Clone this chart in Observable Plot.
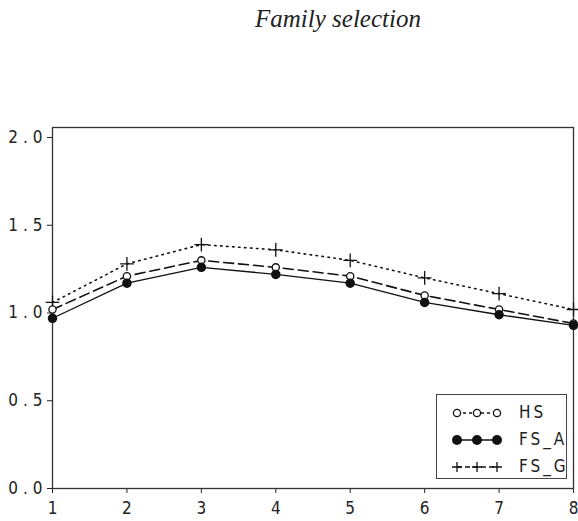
<!DOCTYPE html>
<html>
<head>
<meta charset="utf-8">
<script src="https://cdn.jsdelivr.net/npm/d3@7"></script>
<script src="https://cdn.jsdelivr.net/npm/@observablehq/plot@0.6"></script>
<style>
  html, body { margin: 0; padding: 0; background: #fff; }
  #wrap { position: relative; width: 578px; height: 521px; overflow: hidden; }
  #title { position: absolute; left: 0; top: 4px; width: 578px; padding-left: 98px; box-sizing: border-box;
    text-align: center; font-family: "Liberation Serif", "DejaVu Serif", serif; font-style: italic; font-size: 25px; line-height: 30px; color: #222; }
  #chart { position: absolute; left: 0; top: 0; }
  #legend { position: absolute; left: 436px; top: 394px; width: 131px; height: 85px; border: 1.5px solid #444;
    border-right-width: 1px; background: #fff; box-sizing: border-box; }
</style>
</head>
<body>
<div id="wrap">
  <div id="chart"></div>
  <div id="title">Family selection</div>
  <div id="legend"></div>
</div>
<script>
const generations = [1, 2, 3, 4, 5, 6, 7, 8];
const hsValues  = [1.02, 1.21, 1.30, 1.26, 1.21, 1.10, 1.02, 0.94];
const fsAValues = [0.97, 1.17, 1.26, 1.22, 1.17, 1.06, 0.99, 0.93];
const fsGValues = [1.06, 1.28, 1.39, 1.36, 1.30, 1.20, 1.11, 1.02];
const seriesNames = ["HS", "FS_A", "FS_G"];
const yTicks = [0, 0.5, 1, 1.5, 2];
const yTickLabels = ["0.0", "0.5", "1.0", "1.5", "2.0"];
const xTickLabels = ["1", "2", "3", "4", "5", "6", "7", "8"];

const toRows = (vals, name) => generations.map((g, i) => ({gen: g, value: vals[i], series: name}));
const hs = toRows(hsValues, seriesNames[0]);
const fsA = toRows(fsAValues, seriesNames[1]);
const fsG = toRows(fsGValues, seriesNames[2]);

const fontFam = '"Liberation Sans Narrow", "DejaVu Sans Condensed", sans-serif';

const chart = Plot.plot({
  width: 578,
  height: 521,
  marginTop: 127,
  marginBottom: 33,
  marginLeft: 52,
  marginRight: 5,
  style: {fontFamily: fontFam, fontSize: "17px", color: "#222", background: "#fff"},
  x: {domain: [1, 8], ticks: generations, tickFormat: (d, i) => xTickLabels[i], tickSize: 5, tickPadding: 8, label: null},
  y: {domain: [0, 2.057], ticks: yTicks, tickFormat: (d, i) => yTickLabels[i], tickSize: 5, tickPadding: 0, label: null},
  marks: [
    Plot.frame({stroke: "#333", strokeWidth: 1.3}),
    Plot.line(fsG, {x: "gen", y: "value", stroke: "#111", strokeWidth: 1.6, strokeDasharray: "1.5 4.5"}),
    Plot.line(hs, {x: "gen", y: "value", stroke: "#111", strokeWidth: 1.6, strokeDasharray: "10 5"}),
    Plot.line(fsA, {x: "gen", y: "value", stroke: "#111", strokeWidth: 1.3}),
    Plot.dot(fsG, {x: "gen", y: "value", symbol: "plus", r: 4.5, stroke: "#111", strokeWidth: 1.3}),
    Plot.dot(hs, {x: "gen", y: "value", symbol: "circle", r: 3.6, stroke: "#111", fill: "#fff", strokeWidth: 1.3}),
    Plot.dot(fsA, {x: "gen", y: "value", symbol: "circle", r: 4, fill: "#111", stroke: "#111"})
  ]
});
d3.select(chart).selectAll("[aria-label='y-axis tick label'] text")
  .style("letter-spacing", "5px");
document.getElementById("chart").appendChild(chart);

// legend
const lg = d3.select("#legend");
const rowsSpec = [
  {name: seriesNames[0], kind: "open", dash: "3 3"},
  {name: seriesNames[1], kind: "filled", dash: null},
  {name: seriesNames[2], kind: "plus", dash: "5 3"}
];
rowsSpec.forEach((r, i) => {
  const row = lg.append("div").style("position", "absolute").style("left", "0px").style("top", (5 + i * 27) + "px")
    .style("height", "26px").style("width", "128px");
  const svg = row.append("svg").attr("width", 75).attr("height", 26).style("position", "absolute").style("left", "0px").style("top", "0px");
  const xs = [20, 40, 60];
  const ln = svg.append("line").attr("x1", xs[0]).attr("x2", xs[2]).attr("y1", 13).attr("y2", 13)
    .attr("stroke", "#111").attr("stroke-width", 1.3);
  if (r.dash) ln.attr("stroke-dasharray", r.dash);
  xs.forEach(x => {
    if (r.kind === "open") svg.append("circle").attr("cx", x).attr("cy", 13).attr("r", 3.6).attr("fill", "#fff").attr("stroke", "#111").attr("stroke-width", 1.3);
    else if (r.kind === "filled") svg.append("circle").attr("cx", x).attr("cy", 13).attr("r", 5).attr("fill", "#111");
    else svg.append("path").attr("d", `M${x-5},13H${x+5}M${x},8V18`).attr("stroke", "#111").attr("stroke-width", 1.3).attr("fill", "none");
  });
  row.append("div").text(r.name).style("position", "absolute").style("left", "82px").style("top", "2px")
    .style("font-family", fontFam).style("font-size", "17px").style("letter-spacing", "3px").style("color", "#222");
});
</script>
</body>
</html>
